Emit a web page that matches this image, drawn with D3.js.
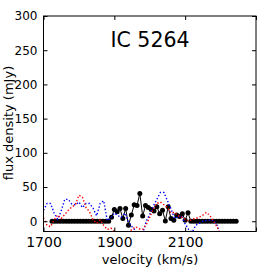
<!DOCTYPE html>
<html>
<head>
<meta charset="utf-8">
<script src="https://cdn.jsdelivr.net/npm/d3@7"></script>
<style>
  body { margin: 0; background: #fff; }
  text { font-family: "DejaVu Sans", sans-serif; fill: #000; }
</style>
</head>
<body>
<svg id="chart" width="273" height="273"></svg>
<script>
// spectrum channels (km/s) and flux (mJy)
var vel = [1724,1732,1740,1748,1756,1764,1772,1780,1788,1796,1804,1812,1820,1828,1836,1844,1852,1860,1868,1876,1884,
  1892,1900,1908,1916,1924,1932,1940,1948,1956,1964,1972,1980,1988,1996,2004,2012,2020,2028,2036,2044,2052,2060,2068,2076,2084,2092,2100,2108,2116,
  2124,2132,2140,2148,2156,2164,2172,2180,2188,2196,2204,2212,2220,2228,2236,2244];
var flux = [0,0,0,0,0,0,0,0,0,0,0,0,0,0,0,0,0,0,0,0,0,
  6,17,14,18.5,4,18.5,-6,9,24,23,40.5,7.5,23,20,17,15,21,11,16,0.5,21,4,1.5,9,7,11,1.5,12.5,0,
  0,0,0,0,0,0,0,0,0,0,0,0,0,0,0,0];

// comparison spectra (dotted)
var velB = [1700,1710,1720,1730,1740,1750,1760,1770,1780,1790,1800,1810,1820,1830,1840,1850,1860,1870,1880,1890,
  1900,1910,1920,1930,1940,1950,1960,1970,1980,1990,2000,2010,2020,2030,2040,2050,2060,2070,2080,2090,
  2100,2110,2120,2130,2140,2150,2160,2170,2180,2190,2200];
var fluxBlue = [16,26,26,12,3,15,32,32,25,24,28,20,26,26,19,8,26,30,1,5,
  12,8,6,12,-1,-8,-14,-22,-18,0,10,22,32,42,42,30,18,4,6,8,
  -4,-12,-16,-6,-3,0,1,2,1,-6,-20];
var fluxRed = [5,-6,-8,2,9,4,10,16,21,24,38,35,20,14,2,-3,2,-6,-12,-10,
  -14,-20,-20,-18,-16,-12,-8,-11,-12,-5,6,18,26,28,24,20,12,13,8,6,
  3,0,3,4,6,9,13,8,0,-8,-20];

var xTicks = [1700, 1900, 2100, 2300];
var yTicks = [0, 50, 100, 150, 200, 250, 300];
var title = "IC 5264";

var L = 43.5, R = 256, T = 16, B = 231.5;

var svg = d3.select("#chart");

var x = d3.scaleLinear().domain([1700, 2300]).range([L, R]);
var y = d3.scaleLinear().domain([-15, 300]).range([B, T]);

svg.append("clipPath").attr("id", "clip")
  .append("rect").attr("x", L).attr("y", T).attr("width", R - L).attr("height", B - T);

var plot = svg.append("g").attr("clip-path", "url(#clip)");

var line = function(xs) {
  return d3.line().x(function(d, i){ return x(xs[i]); }).y(function(d){ return y(d); });
};

// black spectrum
plot.append("path").datum(flux)
  .attr("d", line(vel))
  .attr("fill", "none").attr("stroke", "#000").attr("stroke-width", 1);
plot.selectAll("circle.pt").data(flux).enter()
  .append("circle").attr("class", "pt")
  .attr("cx", function(d, i){ return x(vel[i]); })
  .attr("cy", function(d){ return y(d); })
  .attr("r", 2.5).attr("fill", "#000");

// dotted comparisons
plot.append("path").datum(fluxBlue)
  .attr("d", line(velB))
  .attr("fill", "none").attr("stroke", "#0000ff").attr("stroke-width", 1.4)
  .attr("stroke-dasharray", "1.4,2");
plot.append("path").datum(fluxRed)
  .attr("d", line(velB))
  .attr("fill", "none").attr("stroke", "#ff0000").attr("stroke-width", 1.4)
  .attr("stroke-dasharray", "1.4,2");

// frame
svg.append("rect").attr("x", L).attr("y", T).attr("width", R - L).attr("height", B - T)
  .attr("fill", "none").attr("stroke", "#000").attr("stroke-width", 1);

// axes with inward ticks
var xAxis = d3.axisBottom(x).tickValues(xTicks).tickSize(-4).tickPadding(6).tickFormat(d3.format("d"));
var gx = svg.append("g").attr("transform", "translate(0," + B + ")").call(xAxis);
gx.select(".domain").remove();
gx.selectAll("text").attr("font-size", "14px").attr("dy", "0.71em")
  .style("font-family", "DejaVu Sans").text(function(d){ return d === 2300 ? "" : d; });

var gxt = svg.append("g").attr("transform", "translate(0," + T + ")")
  .call(d3.axisTop(x).tickValues(xTicks).tickSize(-4).tickFormat(""));
gxt.select(".domain").remove();

var yAxis = d3.axisLeft(y).tickValues(yTicks).tickSize(-4).tickPadding(6);
var gy = svg.append("g").attr("transform", "translate(" + L + ",0)").call(yAxis);
gy.select(".domain").remove();
gy.selectAll("text").attr("font-size", "12px").style("font-family", "DejaVu Sans");

var gyr = svg.append("g").attr("transform", "translate(" + R + ",0)")
  .call(d3.axisRight(y).tickValues(yTicks).tickSize(-4).tickFormat(""));
gyr.select(".domain").remove();

svg.selectAll(".tick line").attr("stroke", "#000");

// labels
svg.append("text").attr("x", 150).attr("y", 263.5).attr("text-anchor", "middle")
  .attr("font-size", "13px").text("velocity (km/s)");
svg.append("text").attr("transform", "translate(13,123) rotate(-90)")
  .attr("text-anchor", "middle").attr("font-size", "13px").text("flux density (mJy)");
svg.append("text").attr("x", 150).attr("y", 46.5).attr("text-anchor", "middle")
  .attr("font-size", "20.5px").text(title);
</script>
</body>
</html>
